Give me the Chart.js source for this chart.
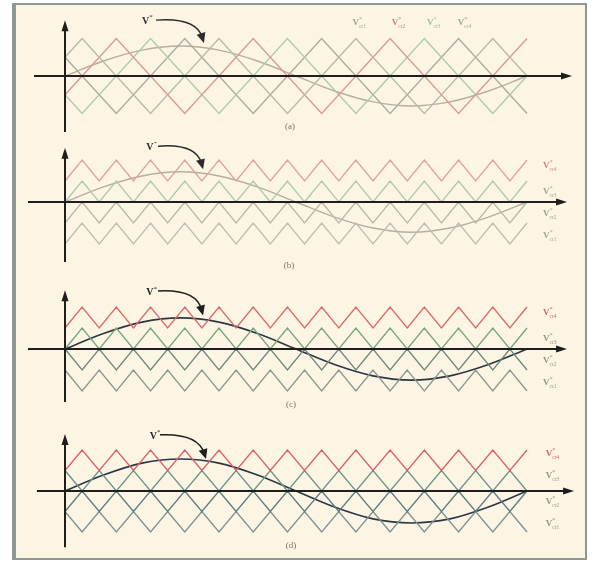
<!DOCTYPE html>
<html><head><meta charset="utf-8">
<script src="https://cdn.jsdelivr.net/npm/chart.js@4.4.0/dist/chart.umd.min.js"></script>
<style>
html,body{margin:0;padding:0;background:#fff;width:596px;height:567px;overflow:hidden;}
#frame{position:absolute;left:12px;top:3px;width:569px;height:553px;background:#fcf5e4;border:2px solid #8e9994;border-left-width:4px;}
canvas{position:absolute;left:0;}
</style></head><body>
<div id="frame"></div>
<canvas id="ca" width="596" height="142" style="top:0px"></canvas>
<canvas id="cb" width="596" height="140" style="top:142px"></canvas>
<canvas id="cc" width="596" height="140" style="top:282px"></canvas>
<canvas id="cd" width="596" height="140" style="top:422px"></canvas>
<script>
// ---- time axis in carrier half-periods; reference period = 27 ----
const carrierSteps = [0,1,2,3,4,5,6,7,8,9,10,11,12,13,14,15,16,17,18,19,20,21,22,23,24,25,26,27];
const sineT = [0,2.25,4.5,6.75,9,11.25,13.5,15.75,18,20.25,22.5,24.75,27];
const sineA = [0,0.40,0.69,0.80,0.69,0.40,0,-0.40,-0.69,-0.80,-0.69,-0.40,0];
const sineB = [0,0.36,0.62,0.72,0.62,0.36,0,-0.36,-0.62,-0.72,-0.62,-0.36,0];
const sineC = [0,0.37,0.64,0.74,0.64,0.37,0,-0.37,-0.64,-0.74,-0.64,-0.37,0];
const sineD = [0,0.39,0.68,0.78,0.68,0.39,0,-0.39,-0.68,-0.78,-0.68,-0.39,0];
// phase-shifted carriers (a)
const psT13 = [0,1,5,9,13,17,21,25,27];
const psT24 = [0,3,7,11,15,19,23,27];
const cr1A = [0.5,1,-1,1,-1,1,-1,1,0];
const cr2A = [-0.5,1,-1,1,-1,1,-1,1];
const cr3A = [-0.5,-1,1,-1,1,-1,1,-1,0];
const cr4A = [0.5,-1,1,-1,1,-1,1,-1];
// level-shifted carriers (b)(c)(d)
const bandLow  = [0.5, 0, -0.5, -1];
const bandHigh = [1, 0.5, 0, -0.5];
const startPD   = ['low','low','low','low'];
const startPOD  = ['low','low','high','high'];
const startAPOD = ['low','high','low','high'];
const legendA = ['cr1','cr2','cr3','cr4'];
const rightLabels = ['cr4','cr3','cr2','cr1'];
const captions = ['(a)','(b)','(c)','(d)'];

function pts(ts, vs){ return ts.map((t,i)=>({x:t,y:vs[i]})); }
function bandPts(b, start){
  return carrierSteps.map((t,k)=>{
    const low = (k%2===0) === (start==='low');
    return {x:t, y: low ? bandLow[b] : bandHigh[b]};
  });
}
function carrierDs(data, color){
  return {data, borderColor:color, borderWidth:1.4, pointRadius:0, tension:0, clip:false, fill:false};
}
function sineDs(ts, vs, color, w){
  return {data:pts(ts,vs), borderColor:color, borderWidth:w, pointRadius:0, cubicInterpolationMode:'monotone', clip:false, fill:false};
}

function drawV(ctx, x, y, sub, color, size){
  ctx.fillStyle = color;
  ctx.font = 'bold '+size+'px "Liberation Serif"';
  ctx.textAlign='left'; ctx.textBaseline='alphabetic';
  ctx.fillText('V', x, y);
  const w = ctx.measureText('V').width;
  ctx.font = (size*0.7)+'px "Liberation Serif"';
  ctx.fillText('*', x+w, y-size*0.45);
  if(sub){ ctx.font = (size*0.6)+'px "Liberation Serif"'; ctx.fillText(sub, x+w, y+size*0.3); }
}

function decor(cfg){
  return {
    id:'decor',
    afterDatasetsDraw(chart){
      const ctx = chart.ctx, xs = chart.scales.x, ys = chart.scales.y;
      const X = v=>xs.getPixelForValue(v), Y = v=>ys.getPixelForValue(v);
      ctx.save();
      // axes
      ctx.strokeStyle = '#1e1e1e'; ctx.fillStyle = '#1e1e1e'; ctx.lineWidth = 2;
      const x0 = X(cfg.axX[0]), x1 = X(cfg.axX[1]), y0 = Y(0);
      ctx.beginPath(); ctx.moveTo(x0, y0); ctx.lineTo(x1-6, y0); ctx.stroke();
      ctx.beginPath(); ctx.moveTo(x1, y0); ctx.lineTo(x1-11, y0-3.5); ctx.lineTo(x1-11, y0+3.5); ctx.closePath(); ctx.fill();
      const ya = Y(cfg.axY[0]), yb = Y(cfg.axY[1]), xa = X(0);
      ctx.beginPath(); ctx.moveTo(xa, yb); ctx.lineTo(xa, ya+6); ctx.stroke();
      ctx.beginPath(); ctx.moveTo(xa, ya); ctx.lineTo(xa-3.5, ya+11); ctx.lineTo(xa+3.5, ya+11); ctx.closePath(); ctx.fill();
      // v* label + curved arrow
      drawV(ctx, X(cfg.vLab[0]), Y(cfg.vLab[1]), null, cfg.arrowColor, 10);
      const s=[X(cfg.arr[0]),Y(cfg.arr[1])], c=[X(cfg.arr[2]),Y(cfg.arr[3])], e=[X(cfg.arr[4]),Y(cfg.arr[5])];
      ctx.strokeStyle = cfg.arrowColor; ctx.fillStyle = cfg.arrowColor; ctx.lineWidth = 1.5;
      const dx=e[0]-c[0], dy=e[1]-c[1], L=Math.hypot(dx,dy), ux=dx/L, uy=dy/L;
      ctx.beginPath(); ctx.moveTo(s[0],s[1]); ctx.quadraticCurveTo(c[0],c[1], e[0]-ux*6, e[1]-uy*6); ctx.stroke();
      ctx.beginPath(); ctx.moveTo(e[0],e[1]);
      ctx.lineTo(e[0]-ux*10-uy*4.5, e[1]-uy*10+ux*4.5);
      ctx.lineTo(e[0]-ux*10+uy*4.5, e[1]-uy*10-ux*4.5);
      ctx.closePath(); ctx.fill();
      // caption
      ctx.fillStyle = '#77716a'; ctx.font = '9px "Liberation Serif"'; ctx.textAlign='center';
      ctx.fillText(cfg.caption, X(cfg.cap[0]), Y(cfg.cap[1]));
      // labels
      cfg.labels.forEach(l=>drawV(ctx, X(l.t), Y(l.v), l.s, l.c, 9));
      ctx.restore();
    }
  };
}

function mkChart(id, cfg){
  new Chart(document.getElementById(id), {
    type:'line',
    data:{datasets:cfg.datasets},
    options:{
      responsive:false, animation:false, devicePixelRatio:1,
      layout:{padding:{left:65,right:69,top:cfg.padTop,bottom:cfg.padBottom}},
      scales:{x:{type:'linear',min:0,max:27,display:false},y:{type:'linear',min:-1,max:1,display:false}},
      plugins:{legend:{display:false},tooltip:{enabled:false}},
      elements:{point:{radius:0}}
    },
    plugins:[decor(cfg)]
  });
}

// (a) phase-shifted
const colA = ['#b9b9aa','#df978f','#aecbab','#a9aca3'];
mkChart('ca', {
  padTop:38.5, padBottom:28.5,
  datasets:[
    carrierDs(pts(psT13,cr1A), colA[0]),
    carrierDs(pts(psT24,cr2A), colA[1]),
    carrierDs(pts(psT13,cr3A), colA[2]),
    carrierDs(pts(psT24,cr4A), colA[3]),
    sineDs(sineT, sineA, '#b8ae9e', 1.4)
  ],
  axX:[-1.81,29.63], axY:[1.49,-1.49],
  vLab:[4.5,1.40], arr:[5.32,1.49,7.66,1.57,8.12,0.88], arrowColor:'#2a2a2a',
  caption:captions[0], cap:[13.15,-1.41],
  labels: legendA.map((s,i)=>({t:[16.8,19.1,21.15,22.95][i], v:1.36, s, c:[ '#a3a597','#d97f7a','#9dbb98','#9ea59a'][i]}))
});

// (b) phase disposition
const colB = ['#e3a09e','#b1c8ad','#b8b9ad','#bbbfb4'];
mkChart('cb', {
  padTop:18, padBottom:38,
  datasets:[
    carrierDs(bandPts(0,startPD[0]), colB[0]),
    carrierDs(bandPts(1,startPD[1]), colB[1]),
    carrierDs(bandPts(2,startPD[2]), colB[2]),
    carrierDs(bandPts(3,startPD[3]), colB[3]),
    sineDs(sineT, sineB, '#b5ae a2'.replace(' ',''), 1.4)
  ],
  axX:[-2.16,29.34], axY:[1.29,-1.43],
  vLab:[4.75,1.24], arr:[5.44,1.33,7.66,1.40,8.07,0.78], arrowColor:'#2a2a2a',
  caption:captions[1], cap:[13.09,-1.57],
  labels: rightLabels.map((s,i)=>({t:27.94, v:[0.80,0.18,-0.34,-0.86][i], s, c:i===0?'#d98080':'#9ea49a'}))
});

// (c) phase opposition disposition
const colC = ['#da6a6a','#79a57d','#6f897f','#8c988e'];
mkChart('cc', {
  padTop:25, padBottom:31,
  datasets:[
    carrierDs(bandPts(0,startPOD[0]), colC[0]),
    carrierDs(bandPts(1,startPOD[1]), colC[1]),
    carrierDs(bandPts(2,startPOD[2]), colC[2]),
    carrierDs(bandPts(3,startPOD[3]), colC[3]),
    sineDs(sineT, sineC, '#2d3641', 1.6)
  ],
  axX:[-2.16,29.34], axY:[1.40,-1.26],
  vLab:[4.75,1.28], arr:[5.44,1.38,7.66,1.43,8.07,0.80], arrowColor:'#1e1e1e',
  caption:captions[2], cap:[13.21,-1.38],
  labels: rightLabels.map((s,i)=>({t:27.94, v:[0.80,0.18,-0.34,-0.86][i], s, c:i===0?'#d06565':'#8e968c'}))
});

// (d) alternative phase opposition disposition
const colD = ['#d9606a','#6c948a','#5b7d80','#7d9292'];
mkChart('cd', {
  padTop:28, padBottom:30,
  datasets:[
    carrierDs(bandPts(0,startAPOD[0]), colD[0]),
    carrierDs(bandPts(1,startAPOD[1]), colD[1]),
    carrierDs(bandPts(2,startAPOD[2]), colD[2]),
    carrierDs(bandPts(3,startAPOD[3]), colD[3]),
    sineDs(sineT, sineD, '#2b3844', 1.6)
  ],
  axX:[-1.64,29.75], axY:[1.39,-1.37],
  vLab:[4.95,1.28], arr:[5.55,1.37,7.77,1.41,8.24,0.78], arrowColor:'#1e1e1e',
  caption:captions[3], cap:[13.21,-1.39],
  labels: rightLabels.map((s,i)=>({t:28.1, v:[0.85,0.31,-0.32,-0.86][i], s, c:i===0?'#cf6070':'#8e968c'}))
});
</script>
</body></html>
